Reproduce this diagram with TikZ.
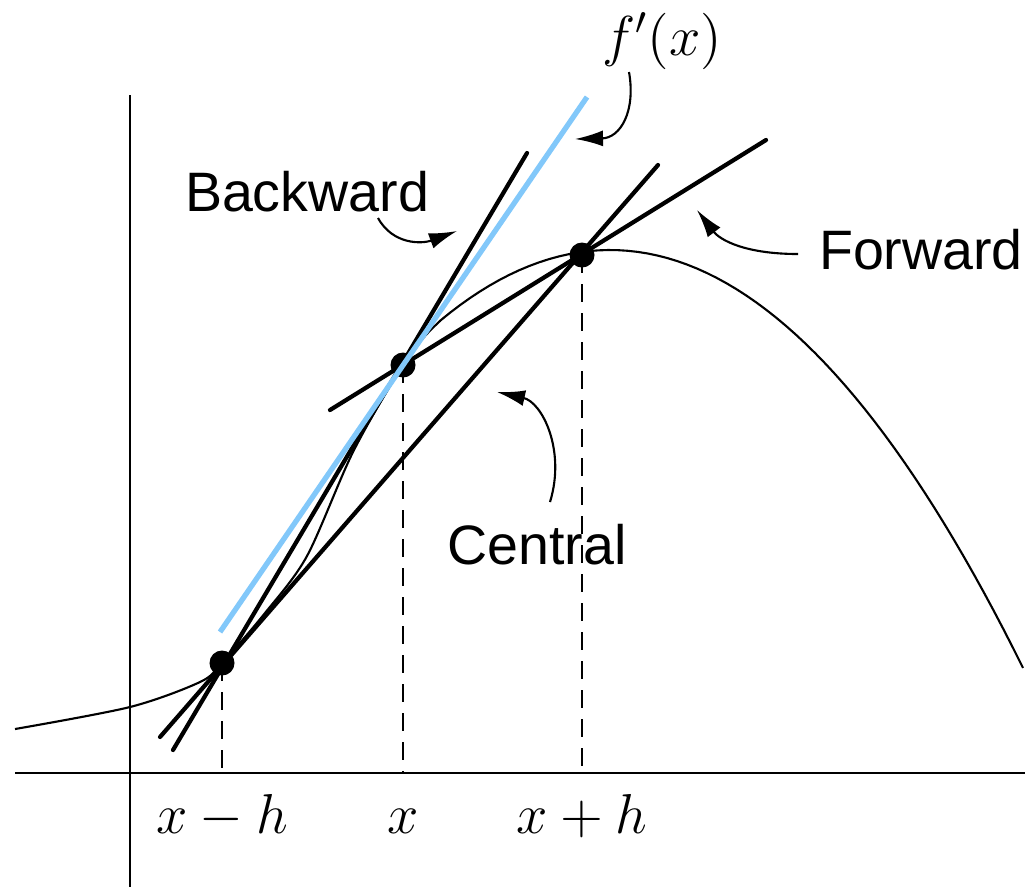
\documentclass[tikz,border=0pt]{standalone}
\usepackage{fix-cm}
\usepackage{amsmath}
\usepackage{fontspec}
\setsansfont{Liberation Sans}
\usepackage{xcolor}
\usepackage{tikz}
\usetikzlibrary{arrows.meta,positioning}
\definecolor{skyblue}{RGB}{130,200,250}

\begin{document}
\begin{tikzpicture}[x=0.01cm,y=-0.01cm,>={Latex[length=2.8mm,width=1.6mm]}]
  \tikzstyle{axis}=[line width=0.6pt]
  \tikzstyle{fn}=[line width=0.6pt]
  \tikzstyle{secant}=[line width=1.2pt,line cap=round]
  \tikzstyle{tangent}=[line width=1.5pt,skyblue]
  \tikzstyle{pt}=[circle,fill,inner sep=0pt,minimum size=0.25cm]
  \tikzstyle{drop}=[line width=0.6pt,dash pattern=on 1.8mm off 1.1mm]
  \tikzstyle{lbl}=[font=\sffamily\fontsize{15.8}{19}\selectfont]
  \tikzstyle{mlbl}=[font=\fontsize{16}{19}\selectfont,anchor=base]
  \tikzstyle{callout}=[->,line width=0.6pt]
  \useasboundingbox (0,0) rectangle (1025,887);
  % axes
  \coordinate (o) at (130,773);
  \coordinate (xl) at (15,773);  \coordinate (xr) at (1025,773);
  \coordinate (yt) at (130,95);  \coordinate (yb) at (130,887);
  \draw[axis] (xl) -- (xr);
  \draw[axis] (yt) -- (yb);
  % the function: rising part, then a parabola over the top
  \draw[fn] plot[smooth] coordinates {(15,729) (130,707) (200,682) (222,663)
    (265,613) (307,556) (353,452) (403,364) (425,336) (440,321)}
    -- plot[domain=440:1023,samples=60] (\x,{250+24.5*((\x-610)/100)^2});
  % sample points
  \coordinate (A) at (222,663);
  \coordinate (B) at (403,365);
  \coordinate (C) at (582,255);
  \coordinate (base) at (0,833);
  \foreach \p/\t in {A/{x-h},B/x,C/{x+h}} {
    \draw[drop] (\p) -- (\p |- o);
    \node[mlbl] (l\p) at (\p |- base) {$\t$};
  }
  % secants
  \coordinate (bwlo) at (173,750); \coordinate (bwhi) at (527,153);
  \coordinate (cnlo) at (160,737); \coordinate (cnhi) at (658,165);
  \coordinate (fwlo) at (330,410); \coordinate (fwhi) at (766,140);
  \draw[secant] (bwlo) -- (bwhi);
  \draw[secant] (cnlo) -- (cnhi);
  \draw[secant] (fwlo) -- (fwhi);
  \foreach \p in {A,B,C}
    \node[pt] (d\p) at (\p) {};
  % exact derivative
  \coordinate (tglo) at (220,632); \coordinate (tghi) at (587,97);
  \draw[tangent] (tglo) -- (tghi);
  % labels
  \node[mlbl] (fp) at (662,55) {$f'(x)$};
  \node[lbl] (bw) at (307,192) {Backward};
  \node[lbl] (fw) at (921,250) {Forward};
  \node[lbl] (cn) at (537,545) {Central};
  \coordinate (fptail) at (629,72);  \coordinate (fptip) at (575,139);
  \coordinate (bwtail) at (378,218); \coordinate (bwtip) at (457,231);
  \coordinate (fwtail) at (798,254); \coordinate (fwtip) at (697,210);
  \coordinate (cntail) at (550,502); \coordinate (cntip) at (497,392);
  \draw[callout] (fptail) .. controls (636,112) and (620,138) .. (fptip);
  \draw[callout] (bwtail) .. controls (393,245) and (422,244) .. (bwtip);
  \draw[callout] (fwtail) .. controls (745,254) and (720,240) .. (fwtip);
  \draw[callout] (cntail) .. controls (566,450) and (542,402) .. (cntip);
\end{tikzpicture}
\end{document}
